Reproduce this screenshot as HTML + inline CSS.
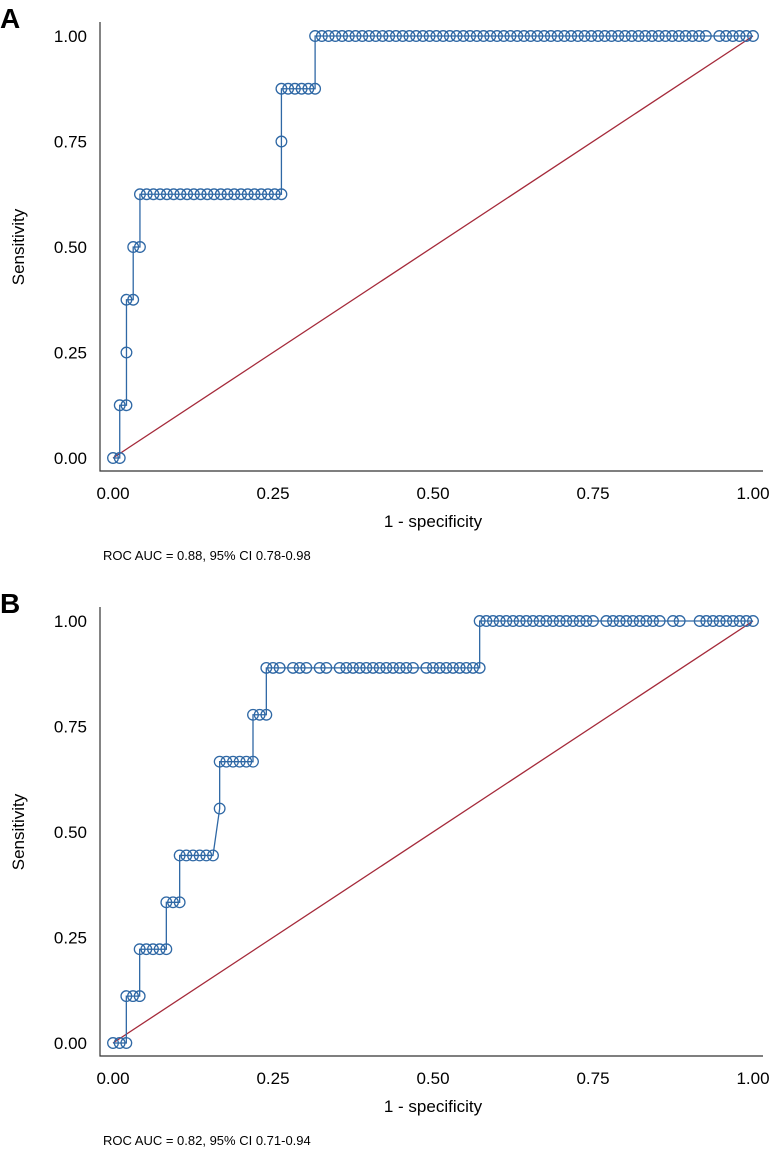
<!DOCTYPE html>
<html><head><meta charset="utf-8"><style>
html,body{margin:0;padding:0;background:#fff;}
svg{display:block;font-family:"Liberation Sans",Arial,sans-serif;}
</style></head><body>
<svg id="chart" width="776" height="1153" viewBox="0 0 776 1153" xmlns="http://www.w3.org/2000/svg"></svg>
<script>
// Panel A data: false-positive ranks (fpr = rank / nNegA) and true-positive counts (tpr = tp / nPosA)
const nNegA = 95, nPosA = 8;
const rankA = [0,1,1,2,2,2,3,3,4,4,5,6,7,8,9,10,11,12,13,14,15,16,17,18,19,20,21,22,23,24,25,25,25,26,27,28,29,30,30,31,32,33,34,35,36,37,38,39,40,41,42,43,44,45,46,47,48,49,50,51,52,53,54,55,56,57,58,59,60,61,62,63,64,65,66,67,68,69,70,71,72,73,74,75,76,77,78,79,80,81,82,83,84,85,86,87,88,90,91,92,93,94,95];
const tpA   = [0,0,1,1,2,3,3,4,4,5,5,5,5,5,5,5,5,5,5,5,5,5,5,5,5,5,5,5,5,5,5,6,7,7,7,7,7,7,8,8,8,8,8,8,8,8,8,8,8,8,8,8,8,8,8,8,8,8,8,8,8,8,8,8,8,8,8,8,8,8,8,8,8,8,8,8,8,8,8,8,8,8,8,8,8,8,8,8,8,8,8,8,8,8,8,8,8,8,8,8,8,8,8];
// Panel B data
const nNegB = 96, nPosB = 9;
const rankB = [0,1,2,2,3,4,4,5,6,7,8,8,9,10,10,11,12,13,14,15,16,16,17,18,19,20,21,21,22,23,23,24,25,27,28,29,31,32,34,35,36,37,38,39,40,41,42,43,44,45,47,48,49,50,51,52,53,54,55,55,56,57,58,59,60,61,62,63,64,65,66,67,68,69,70,71,72,74,75,76,77,78,79,80,81,82,84,85,88,89,90,91,92,93,94,95,96];
const tpB   = [0,0,0,1,1,1,2,2,2,2,2,3,3,3,4,4,4,4,4,4,5,6,6,6,6,6,6,7,7,7,8,8,8,8,8,8,8,8,8,8,8,8,8,8,8,8,8,8,8,8,8,8,8,8,8,8,8,8,8,9,9,9,9,9,9,9,9,9,9,9,9,9,9,9,9,9,9,9,9,9,9,9,9,9,9,9,9,9,9,9,9,9,9,9,9,9,9];
const tickVals = [0, 0.25, 0.5, 0.75, 1];
const tickLabels = ["0.00","0.25","0.50","0.75","1.00"];
const aucLabelA = "ROC AUC = 0.88, 95% CI 0.78-0.98";
const aucLabelB = "ROC AUC = 0.82, 95% CI 0.71-0.94";

const NS = "http://www.w3.org/2000/svg";
const svg = document.getElementById('chart');
function mk(tag, attrs, parent){const e=document.createElementNS(NS,tag);for(const k in attrs)e.setAttribute(k,attrs[k]);(parent||svg).appendChild(e);return e;}

function panel(letter, top, ranks, tps, nNeg, nPos, auc){
  const g = mk('g',{});
  
  
  const x0=113, x1=753, yTop=top+36, yBot=top+458;
  const xs = v => x0 + v*(x1-x0);
  const ys = v => yBot - v*(yBot-yTop);
  const lt = mk('text',{x:0,y:top+28,'font-size':28,'font-weight':'bold',fill:'#000'},g);
  lt.textContent = letter;
  
  
  const ax = mk('path',{d:`M100 ${top+22} V${top+471} H763`,stroke:'#333',fill:'none','stroke-width':1.2},g);
  
  
  tickVals.forEach((v,i)=>{
    const ty = mk('text',{x:87,y:ys(v)+6,'font-size':17,'text-anchor':'end',fill:'#000'},g);
    ty.textContent = tickLabels[i];
    
    
    const tx = mk('text',{x:xs(v),y:top+499,'font-size':17,'text-anchor':'middle',fill:'#000'},g);
    tx.textContent = tickLabels[i];
    
    
  });
  const xt = mk('text',{x:433,y:top+527,'font-size':17,'text-anchor':'middle',fill:'#000'},g);
  xt.textContent = '1 - specificity';
  
  
  const yt = mk('text',{x:0,y:0,'font-size':17,'text-anchor':'middle',fill:'#000',transform:`translate(24 ${top+247}) rotate(-90)`},g);
  yt.textContent = 'Sensitivity';
  
  
  const at = mk('text',{x:103,y:top+560,'font-size':13,fill:'#000'},g);
  at.textContent = auc;
  
  
  const ref = mk('line',{x1:xs(0),y1:ys(0),x2:xs(1),y2:ys(1),stroke:'#a52a3a','stroke-width':1.3},g);
  
  
  const pts = ranks.map((r,i)=>[xs(r/nNeg), ys(tps[i]/nPos)]);
  const line = mk('polyline',{points:pts.map(p=>p.join(',')).join(' '),fill:'none',stroke:'#2f68a5','stroke-width':1.3},g);
  
  
  pts.forEach(p=>{
    const c = mk('circle',{cx:p[0],cy:p[1],r:5.3,fill:'none',stroke:'#2f68a5','stroke-width':1.3},g);
    
    
  });
}
panel('A', 0, rankA, tpA, nNegA, nPosA, aucLabelA);
panel('B', 585, rankB, tpB, nNegB, nPosB, aucLabelB);
</script>
</body></html>
